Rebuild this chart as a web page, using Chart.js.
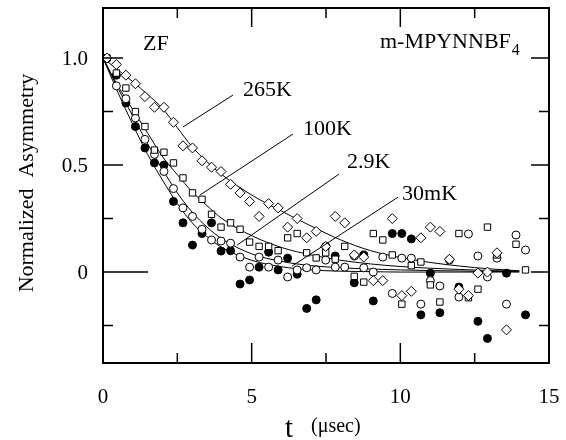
<!DOCTYPE html>
<html>
<head>
<meta charset="utf-8">
<script src="https://cdn.jsdelivr.net/npm/chart.js@4.4.0/dist/chart.umd.min.js"></script>
<style>
  html, body { margin: 0; padding: 0; background: #fff; }
  #wrap { width: 566px; height: 440px; position: relative; }
</style>
</head>
<body>
<div id="wrap"><canvas id="muonChart" width="566" height="440"></canvas></div>
<script>
// time bins (usec)
var times = [0.13, 0.45, 0.77, 1.09, 1.41, 1.73, 2.05, 2.37, 2.69, 3.01,
             3.33, 3.65, 3.97, 4.29, 4.61, 4.93, 5.25, 5.57, 5.89, 6.21,
             6.53, 6.85, 7.17, 7.49, 7.81, 8.13, 8.45, 8.77, 9.09, 9.41,
             9.73, 10.05, 10.37, 10.69, 11.01, 11.33, 11.65, 11.97, 12.29, 12.61,
             12.93, 13.25, 13.57, 13.89, 14.21];

// normalized asymmetry, one list per temperature
var asym265K = [1.0, 0.97, 0.92, 0.88, 0.82, 0.77, 0.77, 0.70, 0.59, 0.58,
                0.52, 0.49, 0.47, 0.41, 0.37, 0.33, 0.26, 0.32, 0.30, 0.21,
                0.25, 0.16, 0.19, 0.12, 0.26, 0.23, 0.08, 0.07, -0.04, -0.04,
                0.25, -0.11, -0.09, 0.16, 0.21, 0.19, 0.06, -0.08, -0.11, -0.005,
                0.0, 0.09, -0.27, null, null];
var asym100K = [1.0, 0.93, 0.86, 0.75, 0.68, 0.57, 0.56, 0.51, 0.44, 0.37,
                0.34, 0.27, 0.21, 0.23, 0.20, 0.14, 0.12, 0.12, 0.10, 0.16,
                0.18, 0.09, 0.066, 0.09, 0.06, 0.12, -0.02, -0.047, 0.18, 0.15,
                0.08, -0.15, 0.03, 0.047, -0.06, -0.14, null, 0.18, -0.12, -0.08,
                0.21, 0.08, null, 0.13, 0.01];
var asym2_9K = [1.0, 0.87, 0.81, 0.72, 0.62, 0.55, 0.47, 0.39, 0.30, 0.26,
                0.20, 0.15, 0.145, 0.135, 0.07, 0.023, 0.07, 0.023, 0.056, -0.023,
                0.01, 0.02, 0.01, 0.056, 0.023, 0.023, 0.075, 0.02, 0.0, 0.07,
                -0.10, 0.065, 0.065, -0.15, -0.04, -0.065, 0.056, -0.117, 0.178, 0.075,
                -0.023, 0.065, -0.15, 0.173, 0.103];
var asym30mK = [1.0, 0.92, 0.79, 0.68, 0.58, 0.51, 0.50, 0.33, 0.23, 0.126,
                0.18, 0.23, 0.098, 0.10, -0.056, -0.037, 0.023, 0.093, 0.01, 0.065,
                -0.01, -0.17, -0.13, 0.12, 0.075, null, -0.05, 0.08, -0.135, null,
                0.18, 0.18, 0.155, -0.2, -0.005, -0.19, null, -0.07, null, -0.23,
                -0.31, null, -0.005, null, -0.2];

// fitted curves
var fitTimes = [0, 0.5, 1, 1.5, 2, 2.5, 3, 3.5, 4, 5, 6, 7, 8, 9, 10, 11, 12, 13, 14];
var fit265K = [1, 0.945, 0.89, 0.83, 0.765, 0.675, 0.585, 0.515, 0.455, 0.36, 0.285, 0.215, 0.15, 0.10, 0.068, 0.045, 0.028, 0.015, 0.006];
var fit100K = [1, 0.87, 0.76, 0.65, 0.54, 0.455, 0.375, 0.31, 0.25, 0.17, 0.115, 0.08, 0.055, 0.038, 0.026, 0.018, 0.012, 0.007, 0.004];
var fit2_9K = [1, 0.86, 0.73, 0.60, 0.48, 0.37, 0.28, 0.21, 0.155, 0.085, 0.05, 0.03, 0.02, 0.014, 0.01, 0.007, 0.005, 0.003, 0.002];
var fit30mK = [1, 0.84, 0.69, 0.55, 0.43, 0.32, 0.23, 0.165, 0.115, 0.055, 0.025, 0.01, 0.004, 0.002, 0, 0, 0, 0, 0];

// axis ticks
var xTickLabels = [0, 5, 10, 15];
var yTickLabels = [0, 0.5, 1.0];
var xMinorTicks = [2.5, 7.5, 12.5];
var xMajorTicks = [5, 10];
var yMinorTicks = [-0.25, 0.25, 0.75];
var yMajorTicks = [0.5, 1.0];

// temperature labels: [text, label t, label y, line from t,y, line to t,y]
var tempLabels = [
    ['265K', 4.71, 0.825, 4.37, 0.827, 2.69, 0.678],
    ['100K', 6.73, 0.64, 6.39, 0.645, 3.26, 0.36],
    ['2.9K', 8.21, 0.486, 7.94, 0.458, 4.51, 0.126],
    ['30mK', 10.06, 0.336, 9.92, 0.35, 6.36, 0.028]
];

var serif = '"Liberation Serif", "DejaVu Serif", serif';

function pairs(xs, ys) {
    return xs.map(function (x, i) { return { x: x, y: ys[i] }; });
}

function pointSet(ys, style, fill, r) {
    return {
        data: pairs(times, ys),
        pointStyle: style,
        pointRadius: r,
        pointBorderWidth: 1,
        pointBorderColor: '#000',
        pointBackgroundColor: fill,
        showLine: false
    };
}

function fitSet(ys) {
    return {
        data: pairs(fitTimes, ys),
        showLine: true,
        borderColor: '#000',
        borderWidth: 1,
        pointRadius: 0,
        cubicInterpolationMode: 'monotone',
        fill: false
    };
}

var decorPlugin = {
    id: 'decor',
    afterDraw: function (chart) {
        var ctx = chart.ctx;
        var xs = chart.scales.x, ys = chart.scales.y;
        var a = chart.chartArea;
        ctx.save();
        ctx.strokeStyle = '#000';
        ctx.fillStyle = '#000';

        // frame
        ctx.lineWidth = 2;
        ctx.strokeRect(a.left, a.top, a.right - a.left, a.bottom - a.top);

        // inward ticks
        ctx.lineWidth = 1.5;
        ctx.beginPath();
        xMinorTicks.forEach(function (v) {
            var p = xs.getPixelForValue(v);
            ctx.moveTo(p, a.bottom); ctx.lineTo(p, a.bottom - 10);
            ctx.moveTo(p, a.top); ctx.lineTo(p, a.top + 10);
        });
        xMajorTicks.forEach(function (v) {
            var p = xs.getPixelForValue(v);
            ctx.moveTo(p, a.bottom); ctx.lineTo(p, a.bottom - 20);
            ctx.moveTo(p, a.top); ctx.lineTo(p, a.top + 19);
        });
        yMinorTicks.forEach(function (v) {
            var p = ys.getPixelForValue(v);
            ctx.moveTo(a.left, p); ctx.lineTo(a.left + 10, p);
            ctx.moveTo(a.right, p); ctx.lineTo(a.right - 10, p);
        });
        yMajorTicks.forEach(function (v) {
            var p = ys.getPixelForValue(v);
            ctx.moveTo(a.left, p); ctx.lineTo(a.left + 20, p);
            ctx.moveTo(a.right, p); ctx.lineTo(a.right - 18, p);
        });
        var z = ys.getPixelForValue(0);
        ctx.moveTo(a.left, z); ctx.lineTo(a.left + 45, z);
        ctx.moveTo(a.right, z); ctx.lineTo(a.right - 18, z);
        ctx.stroke();

        // tick labels
        ctx.font = '21px ' + serif;
        ctx.textAlign = 'center';
        ctx.textBaseline = 'middle';
        xTickLabels.forEach(function (v) {
            ctx.fillText(String(v), xs.getPixelForValue(v), 397);
        });
        ctx.textAlign = 'right';
        yTickLabels.forEach(function (v) {
            ctx.fillText(v === 0 ? '0' : v.toFixed(1), 88, ys.getPixelForValue(v) + 1);
        });

        // leader lines and temperature labels
        ctx.lineWidth = 1;
        ctx.font = '22px ' + serif;
        ctx.textAlign = 'left';
        ctx.textBaseline = 'alphabetic';
        tempLabels.forEach(function (l) {
            ctx.beginPath();
            ctx.moveTo(xs.getPixelForValue(l[3]), ys.getPixelForValue(l[4]));
            ctx.lineTo(xs.getPixelForValue(l[5]), ys.getPixelForValue(l[6]));
            ctx.stroke();
            ctx.fillText(l[0], xs.getPixelForValue(l[1]), ys.getPixelForValue(l[2]));
        });

        // ZF and sample name
        ctx.fillText('ZF', 143, 50);
        ctx.fillText('m-MPYNNBF', 380, 48);
        var w = ctx.measureText('m-MPYNNBF').width;
        ctx.font = '16px ' + serif;
        ctx.fillText('4', 381 + w, 55);

        // axis titles
        ctx.font = '29px ' + serif;
        ctx.fillText('t', 285, 437);
        ctx.font = '20px ' + serif;
        ctx.fillText('(\u03bcsec)', 311, 432);

        ctx.translate(27, 183);
        ctx.rotate(-Math.PI / 2);
        ctx.font = '22px ' + serif;
        ctx.textAlign = 'center';
        ctx.textBaseline = 'middle';
        ctx.fillText('Normalized  Asymmetry', 0, 0);
        ctx.restore();
    }
};

var ctx = document.getElementById('muonChart').getContext('2d');

var myChart = new Chart(ctx, {
    type: 'scatter',
    data: {
        datasets: [
            pointSet(asym265K, 'rectRot', '#fff', 5),
            pointSet(asym100K, 'rect', '#fff', 4.5),
            pointSet(asym2_9K, 'circle', '#fff', 4),
            pointSet(asym30mK, 'circle', '#000', 4),
            fitSet(fit265K),
            fitSet(fit100K),
            fitSet(fit2_9K),
            fitSet(fit30mK)
        ]
    },
    options: {
        responsive: false,
        animation: false,
        layout: { padding: { left: 0, top: 8, right: 17, bottom: 0 } },
        plugins: {
            legend: { display: false },
            tooltip: { enabled: false }
        },
        scales: {
            x: {
                type: 'linear',
                min: 0,
                max: 15,
                grid: { display: false, drawTicks: false },
                border: { display: false },
                ticks: { display: false },
                afterFit: function (s) { s.height = 77; }
            },
            y: {
                type: 'linear',
                min: -0.425,
                max: 1.234,
                grid: { display: false, drawTicks: false },
                border: { display: false },
                ticks: { display: false },
                afterFit: function (s) { s.width = 103; }
            }
        }
    },
    plugins: [decorPlugin]
});
</script>
</body>
</html>
